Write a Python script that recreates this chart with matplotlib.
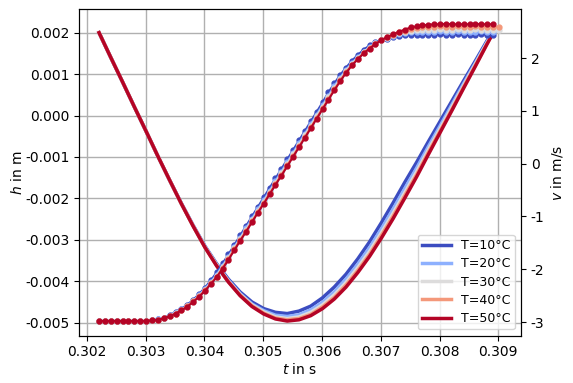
import numpy as np
import matplotlib
matplotlib.use("Agg")
import matplotlib.pyplot as plt

plt.rcParams['axes.unicode_minus'] = False

# ---------------- data ----------------
temperatures = [10, 20, 30, 40, 50]
legend_labels = ["T=10°C", "T=20°C", "T=30°C", "T=40°C", "T=50°C"]

# sample times (s)
t_start = 0.30221
t_step = 0.0001
# velocity samples (every step), h samples (every second step + last)
flat = [-2.98] * 9

v_10 = flat + [-2.97, -2.95, -2.92, -2.87, -2.81, -2.75, -2.67, -2.58, -2.47, -2.35,
               -2.21, -2.06, -1.89, -1.72, -1.54, -1.36, -1.18, -1.00, -0.82, -0.64,
               -0.46, -0.28, -0.10, 0.08, 0.26, 0.44, 0.62, 0.80, 0.98, 1.16,
               1.35, 1.52, 1.68, 1.82, 1.95, 2.06, 2.16, 2.24, 2.30, 2.34,
               2.37, 2.40, 2.42, 2.43, 2.44, 2.44, 2.44, 2.44,
               2.44, 2.45, 2.44, 2.44, 2.45, 2.44, 2.44, 2.44, 2.45, 2.44, 2.44]
v_20 = flat + [-2.97, -2.95, -2.92, -2.88, -2.82, -2.76, -2.69, -2.60, -2.49, -2.37,
               -2.24, -2.10, -1.93, -1.76, -1.58, -1.40, -1.22, -1.04, -0.86, -0.69,
               -0.51, -0.33, -0.15, 0.03, 0.21, 0.39, 0.57, 0.75, 0.93, 1.11,
               1.29, 1.47, 1.63, 1.78, 1.91, 2.02, 2.12, 2.21, 2.28, 2.34,
               2.38, 2.42, 2.45, 2.47, 2.49, 2.50, 2.50, 2.50,
               2.50, 2.51, 2.50, 2.50, 2.51, 2.50, 2.50, 2.50, 2.51, 2.50, 2.50]
v_30 = flat + [-2.97, -2.96, -2.93, -2.88, -2.83, -2.77, -2.70, -2.61, -2.50, -2.39,
               -2.26, -2.12, -1.96, -1.78, -1.60, -1.42, -1.25, -1.07, -0.89, -0.72,
               -0.54, -0.36, -0.18, 0.00, 0.18, 0.36, 0.54, 0.72, 0.90, 1.08,
               1.26, 1.44, 1.60, 1.76, 1.89, 2.01, 2.11, 2.20, 2.28, 2.34,
               2.39, 2.43, 2.47, 2.50, 2.52, 2.53, 2.54, 2.54,
               2.54, 2.55, 2.54, 2.54, 2.55, 2.54, 2.54, 2.55, 2.54, 2.54, 2.54, 2.54]
v_40 = flat + [-2.97, -2.96, -2.93, -2.89, -2.84, -2.78, -2.70, -2.61, -2.51, -2.40,
               -2.27, -2.14, -1.97, -1.80, -1.62, -1.44, -1.27, -1.09, -0.91, -0.74,
               -0.56, -0.38, -0.21, -0.03, 0.15, 0.33, 0.51, 0.69, 0.87, 1.05,
               1.23, 1.41, 1.58, 1.74, 1.87, 1.99, 2.10, 2.19, 2.27, 2.34,
               2.40, 2.44, 2.49, 2.52, 2.55, 2.57, 2.58, 2.59,
               2.59, 2.60, 2.59, 2.59, 2.60, 2.59, 2.59, 2.60, 2.59, 2.59, 2.59, 2.59]
v_50 = flat + [-2.97, -2.96, -2.93, -2.89, -2.84, -2.78, -2.71, -2.62, -2.52, -2.41,
               -2.28, -2.15, -1.99, -1.82, -1.64, -1.46, -1.29, -1.11, -0.93, -0.76,
               -0.58, -0.40, -0.23, -0.05, 0.13, 0.31, 0.49, 0.67, 0.85, 1.03,
               1.21, 1.39, 1.56, 1.72, 1.86, 1.98, 2.09, 2.18, 2.27, 2.34,
               2.40, 2.45, 2.50, 2.54, 2.58, 2.60, 2.62, 2.63,
               2.64, 2.64, 2.65, 2.64, 2.64, 2.64, 2.64, 2.65, 2.64, 2.64, 2.64]

h_index = list(range(0, 68, 2)) + [67]
h_10 = [0.00200, 0.00140, 0.00081, 0.00021, -0.00038, -0.00098, -0.00156, -0.00212,
        -0.00265, -0.00315, -0.00358, -0.00395, -0.00426, -0.00450, -0.00466, -0.00475,
        -0.00478, -0.00472, -0.00460, -0.00440, -0.00414, -0.00383, -0.00346, -0.00305,
        -0.00259, -0.00211, -0.00161, -0.00113, -0.00063, -0.00014, 0.00035, 0.00084,
        0.00132, 0.00181, 0.00204]
h_20 = [0.00200, 0.00140, 0.00081, 0.00021, -0.00038, -0.00098, -0.00156, -0.00212,
        -0.00266, -0.00316, -0.00360, -0.00398, -0.00430, -0.00455, -0.00471, -0.00482,
        -0.00485, -0.00481, -0.00469, -0.00451, -0.00426, -0.00395, -0.00359, -0.00319,
        -0.00274, -0.00226, -0.00176, -0.00127, -0.00075, -0.00025, 0.00026, 0.00077,
        0.00127, 0.00178, 0.00202]
h_30 = [0.00200, 0.00140, 0.00081, 0.00021, -0.00038, -0.00098, -0.00156, -0.00213,
        -0.00266, -0.00317, -0.00361, -0.00400, -0.00432, -0.00457, -0.00474, -0.00486,
        -0.00490, -0.00486, -0.00475, -0.00457, -0.00433, -0.00403, -0.00367, -0.00328,
        -0.00283, -0.00236, -0.00186, -0.00136, -0.00083, -0.00032, 0.00020, 0.00072,
        0.00124, 0.00176, 0.00201]
h_40 = [0.00200, 0.00140, 0.00081, 0.00021, -0.00038, -0.00098, -0.00156, -0.00213,
        -0.00267, -0.00318, -0.00362, -0.00401, -0.00434, -0.00459, -0.00477, -0.00489,
        -0.00493, -0.00490, -0.00480, -0.00462, -0.00439, -0.00409, -0.00374, -0.00335,
        -0.00290, -0.00243, -0.00193, -0.00143, -0.00089, -0.00037, 0.00015, 0.00069,
        0.00121, 0.00174, 0.00200]
h_50 = [0.00200, 0.00140, 0.00081, 0.00021, -0.00038, -0.00098, -0.00156, -0.00213,
        -0.00267, -0.00318, -0.00363, -0.00402, -0.00435, -0.00461, -0.00479, -0.00491,
        -0.00496, -0.00493, -0.00483, -0.00466, -0.00443, -0.00414, -0.00379, -0.00340,
        -0.00296, -0.00249, -0.00199, -0.00148, -0.00094, -0.00041, 0.00012, 0.00066,
        0.00119, 0.00173, 0.00199]

v_series = [v_10, v_20, v_30, v_40, v_50]
h_series = [h_10, h_20, h_30, h_40, h_50]

x_ticks = [0.302, 0.303, 0.304, 0.305, 0.306, 0.307, 0.308, 0.309]
x_ticklabels = ["0.302", "0.303", "0.304", "0.305", "0.306", "0.307", "0.308", "0.309"]
h_ticks = [-0.005, -0.004, -0.003, -0.002, -0.001, 0.0, 0.001, 0.002]
h_ticklabels = ["-0.005", "-0.004", "-0.003", "-0.002", "-0.001", "0.000", "0.001", "0.002"]
v_ticks = [-3, -2, -1, 0, 1, 2]

# ---------------- plot ----------------
fig = plt.figure(figsize=(5.73, 3.83), dpi=100)
ax = fig.add_axes([0.1384, 0.1235, 0.7709, 0.853])
ax2 = ax.twinx()

colors = plt.cm.coolwarm(np.linspace(0, 1, len(temperatures)))

t_h = t_start + t_step * np.array(h_index)
for h, c, lab in zip(h_series, colors, legend_labels):
    ax.plot(t_h, h, color=c, lw=2.5, label=lab)

for v, c in zip(v_series, colors):
    t_v = t_start + t_step * np.arange(len(v))
    ax2.plot(t_v, v, color=c, lw=1.5, marker='o', ms=3.5)

ax.set_xlim(0.301874, 0.309386)
ax.set_ylim(-0.005314, 0.002572)
ax2.set_ylim(-3.259, 2.93)
ax.set_xticks(x_ticks)
ax.set_xticklabels(x_ticklabels)
ax.set_yticks(h_ticks)
ax.set_yticklabels(h_ticklabels)
ax2.set_yticks(v_ticks)
ax.grid(True, color='#b0b0b0', lw=1.0)

ax.set_xlabel("$t$ in s", labelpad=2)
ax.set_ylabel("$h$ in m", labelpad=0)
ax2.set_ylabel("$v$ in m/s", labelpad=3)

ax.legend(loc='lower right', fontsize=9, labelspacing=0.42, borderpad=0.35,
          handlelength=2.3)

fig.savefig("out.png", dpi=100)
